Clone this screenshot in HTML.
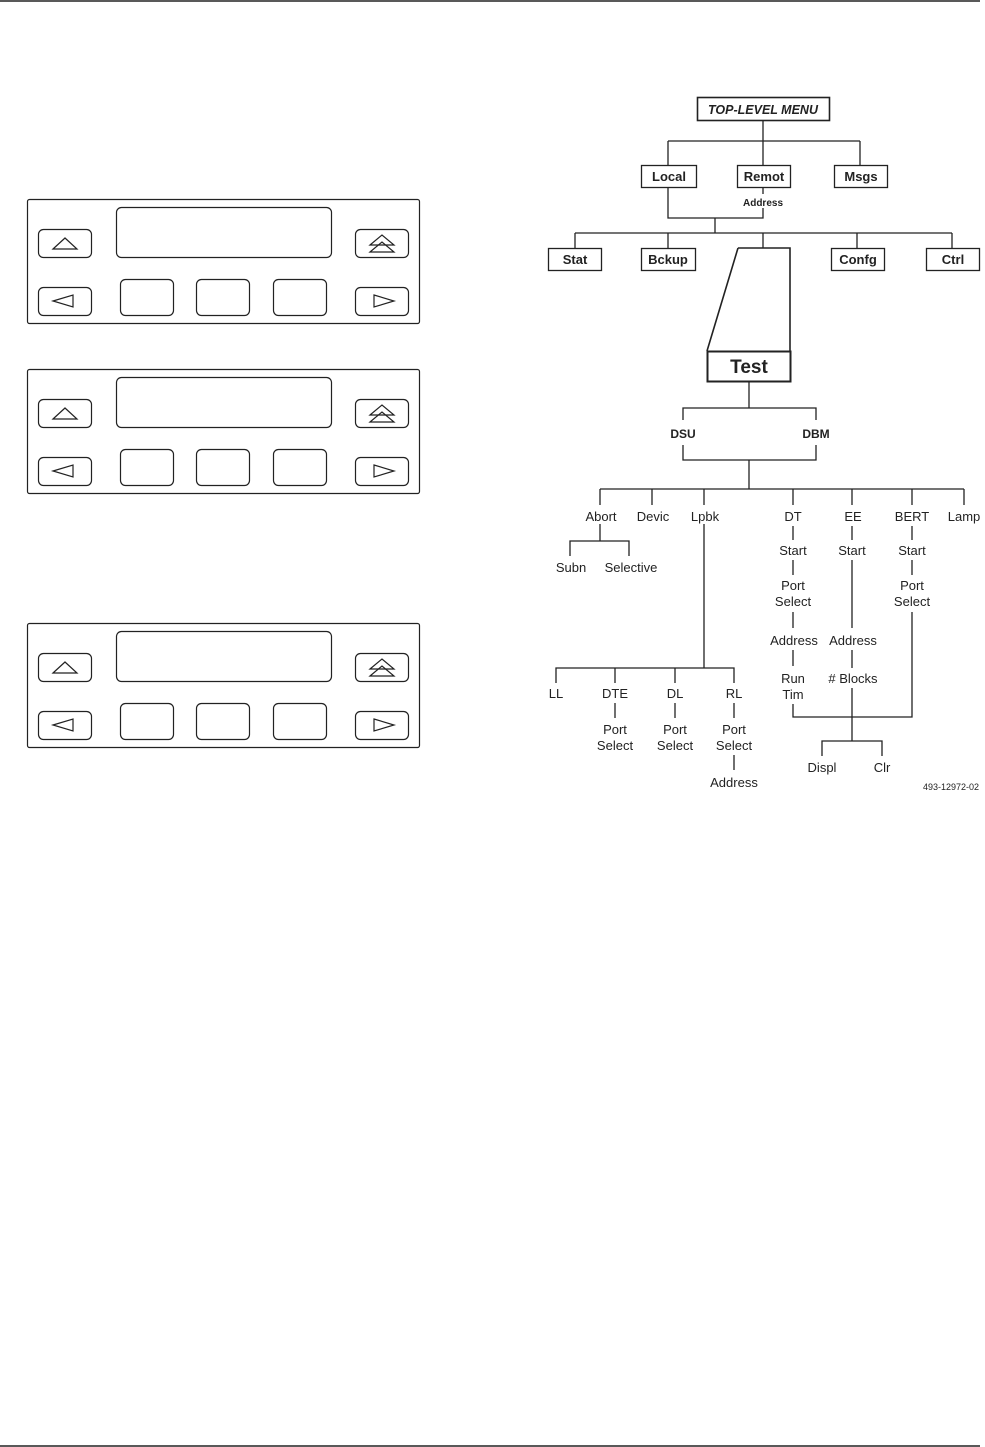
<!DOCTYPE html>
<html><head><meta charset="utf-8"><style>
html,body{margin:0;padding:0;background:#fff;}
svg{display:block}
text{font-family:"Liberation Sans",sans-serif;fill:#222}
</style></head><body>
<svg width="985" height="1447" viewBox="0 0 985 1447" xmlns="http://www.w3.org/2000/svg">
<defs>
<g id="panel" fill="none" stroke="#222" stroke-width="1.2">
  <rect x="27.5" y="199.5" width="392" height="124" rx="2"/>
  <rect x="116.5" y="207.5" width="215" height="50" rx="5"/>
  <rect x="38.5" y="229.5" width="53" height="28" rx="5"/>
  <rect x="355.5" y="229.5" width="53" height="28" rx="5"/>
  <rect x="38.5" y="287.5" width="53" height="28" rx="5"/>
  <rect x="355.5" y="287.5" width="53" height="28" rx="5"/>
  <rect x="120.5" y="279.5" width="53" height="36" rx="5"/>
  <rect x="196.5" y="279.5" width="53" height="36" rx="5"/>
  <rect x="273.5" y="279.5" width="53" height="36" rx="5"/>
  <polygon points="53,249 65,238 77,249"/>
  <polygon points="370,245 382,235 394,245"/>
  <polygon points="370,252 382,242 394,252"/>
  <polygon points="53,301 73,295 73,307"/>
  <polygon points="374,295 394,301 374,307"/>
</g>
</defs>
<line x1="0" y1="1" x2="980" y2="1" stroke="#222" stroke-width="1.5"/>
<line x1="0" y1="1446" x2="980" y2="1446" stroke="#222" stroke-width="1.5"/>
<use href="#panel"/>
<use href="#panel" y="170"/>
<use href="#panel" y="424"/>

<g fill="none" stroke="#222" stroke-width="1.3">
  <rect x="697.5" y="97.5" width="132" height="23" stroke-width="1.6"/>
  <path d="M763 120V141M668 141H860M668 141V165M763 141V165M860 141V165"/>
  <rect x="641.5" y="165.5" width="55" height="22"/>
  <rect x="737.5" y="165.5" width="53" height="22"/>
  <rect x="834.5" y="165.5" width="53" height="22"/>
  <path d="M668 187V218H763V208M763 187V194M715 218V233M575 233H952M575 233V248M668 233V248M763 233V248M857 233V248M952 233V248"/>
  <rect x="548.5" y="248.5" width="53" height="22"/>
  <rect x="641.5" y="248.5" width="54" height="22"/>
  <rect x="831.5" y="248.5" width="53" height="22"/>
  <rect x="926.5" y="248.5" width="53" height="22"/>
  <path d="M738 248H790V351M738 248L707 351" stroke-width="1.6"/>
  <rect x="707.5" y="351.5" width="83" height="30" stroke-width="2"/>
  <path d="M749 381V408M683 420V408H816V420M683 445V460H816V445M749 460V489M600 489H964M600 489V505M652 489V505M704 489V505M793 489V505M852 489V505M912 489V505M964 489V505"/>
  <path d="M600 524V541M570 556V541H629V556"/>
  <path d="M793 526V540M852 526V540M912 526V540"/>
  <path d="M704 524V668M556 683V668H734V683M615 668V683M675 668V683"/>
  <path d="M615 703V718M675 703V718M734 703V718M734 755V770"/>
  <path d="M793 560V575M793 612V628M793 650V666M793 704V717H912V612M912 560V575M852 560V628M852 650V668M852 688V741M822 756V741H882V756"/>
</g>

<g font-weight="bold" font-size="13" text-anchor="middle">
  <text x="763" y="114" font-style="italic" font-size="12.5">TOP-LEVEL MENU</text>
  <text x="669" y="181">Local</text>
  <text x="764" y="181">Remot</text>
  <text x="861" y="181">Msgs</text>
  <text x="575" y="264">Stat</text>
  <text x="668" y="264">Bckup</text>
  <text x="858" y="264">Confg</text>
  <text x="953" y="264">Ctrl</text>
  <text x="749" y="373" font-size="19">Test</text>
  <text x="683" y="438" font-size="12">DSU</text>
  <text x="816" y="438" font-size="12">DBM</text>
  <text x="763" y="206" font-size="10">Address</text>
</g>
<g font-size="13" text-anchor="middle">
  <text x="601" y="521">Abort</text>
  <text x="653" y="521">Devic</text>
  <text x="705" y="521">Lpbk</text>
  <text x="793" y="521">DT</text>
  <text x="853" y="521">EE</text>
  <text x="912" y="521">BERT</text>
  <text x="964" y="521">Lamp</text>
  <text x="571" y="572">Subn</text>
  <text x="631" y="572">Selective</text>
  <text x="793" y="555">Start</text>
  <text x="852" y="555">Start</text>
  <text x="912" y="555">Start</text>
  <text x="793" y="590">Port</text>
  <text x="793" y="606">Select</text>
  <text x="912" y="590">Port</text>
  <text x="912" y="606">Select</text>
  <text x="794" y="645">Address</text>
  <text x="853" y="645">Address</text>
  <text x="793" y="683">Run</text>
  <text x="793" y="699">Tim</text>
  <text x="853" y="683"># Blocks</text>
  <text x="822" y="772">Displ</text>
  <text x="882" y="772">Clr</text>
  <text x="556" y="698">LL</text>
  <text x="615" y="698">DTE</text>
  <text x="675" y="698">DL</text>
  <text x="734" y="698">RL</text>
  <text x="615" y="734">Port</text>
  <text x="615" y="750">Select</text>
  <text x="675" y="734">Port</text>
  <text x="675" y="750">Select</text>
  <text x="734" y="734">Port</text>
  <text x="734" y="750">Select</text>
  <text x="734" y="787">Address</text>
  <text x="979" y="790" font-size="9" text-anchor="end">493-12972-02</text>
</g>
</svg>
</body></html>
